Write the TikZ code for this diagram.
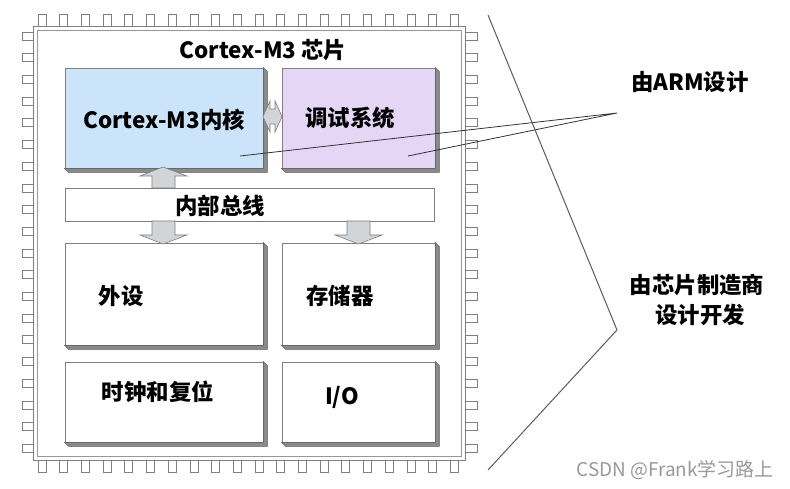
\documentclass[tikz,border=0pt]{standalone}
\usepackage{fontspec}
\setmainfont{Noto Sans CJK SC}
\usetikzlibrary{calc}
\definecolor{edge}{HTML}{7F7F7F}
\definecolor{shadegray}{HTML}{8A8A8A}
\definecolor{coreblue}{HTML}{CCE4FA}
\definecolor{dbgpurple}{HTML}{E5D6F6}
\definecolor{arrowgray}{HTML}{D2D5D8}
\definecolor{leader}{HTML}{333333}
\begin{document}
\begin{tikzpicture}[x=1bp,y=-1bp,
  box/.style={draw=edge, line width=0.8bp, fill=white, inner sep=0pt},
  flatbox/.style={draw=edge, line width=0.8bp, fill=white, inner sep=0pt},
  lbl/.style={font=\fontsize{22.5}{27}\selectfont\bfseries, text=black, inner sep=0pt},
  pin/.style={draw=edge, line width=0.7bp, fill=white},
  blockarrow/.style={draw=edge, line width=0.6bp, fill=arrowgray},
  shadowstrip/.style={fill=shadegray, draw=edge!70!black, line width=0.4bp},
  leadline/.style={draw=leader, line width=0.8bp},
  bracketline/.style={draw=leader!80, line width=1bp}
]
\useasboundingbox (0,0) rectangle (790,489);
\fill[white] (0,0) rectangle (790,489);

% pins
\foreach \i in {0,...,19}{
  \draw[pin] ({38+21.7*\i},14) rectangle ({46+21.7*\i},26);
  \draw[pin] ({38+21.7*\i},460) rectangle ({46+21.7*\i},472);
  \draw[pin] (22,{32+21.7*\i}) rectangle (33,{40+21.7*\i});
  \draw[pin] (465,{32+21.7*\i}) rectangle (477,{40+21.7*\i});
}
% chip frame
\node[draw=edge, line width=0.9bp, fill=white, inner sep=0pt, minimum width=432bp, minimum height=434bp] (chip) at (249,243) {};
\node[draw=edge!80, line width=0.7bp, inner sep=0pt, minimum width=424bp, minimum height=426bp] (chipin) at (249,243) {};

\node[lbl] (title) at (263,50) {Cortex-M3 芯片};

% boxes
\node[box, fill=coreblue, minimum width=198bp, minimum height=100bp] (core) at (164,118) {};
\node[box, fill=dbgpurple, minimum width=153bp, minimum height=100bp] (debug) at (358.5,118) {};
\node[flatbox, minimum width=369bp, minimum height=33bp] (bus) at (249.5,204.5) {};
\node[box, minimum width=198bp, minimum height=102bp] (periph) at (164,294) {};
\node[box, minimum width=153bp, minimum height=102bp] (mem) at (358.5,294) {};
\node[box, minimum width=198bp, minimum height=80bp] (clk) at (164,402) {};
\node[box, minimum width=153bp, minimum height=80bp] (io) at (358.5,402) {};

% 3D edges
\foreach \n in {core,debug,periph,mem,clk,io}{
  \filldraw[shadowstrip] (\n.south west) -- ++(4,4) -- ($(\n.south east)+(4,4)$)
    -- ($(\n.north east)+(4,4)$) -- (\n.north east) -- (\n.south east) -- cycle;
}

% labels
\node[lbl] (coret) at (164,120) {Cortex-M3内核};
\node[lbl] (debugt) at (350,118) {调试系统};
\node[lbl] (bust) at (220,206) {内部总线};
\node[lbl] (periphht) at (121,296) {外设};
\node[lbl] (memt) at (340,296) {存储器};
\node[lbl] (clkt) at (158,392) {时钟和复位};
\node[lbl] (iot) at (342,397) {I/O};

% block arrows
\draw[blockarrow] (152,188) -- (152,176) -- (140,176) -- (163,167) -- (187,176) -- (175,176) -- (175,188) -- cycle;
\draw[blockarrow] (152,221) -- (152,235) -- (140,235) -- (163,244) -- (187,235) -- (175,235) -- (175,221) -- cycle;
\draw[blockarrow] (347,221) -- (347,235) -- (335,235) -- (358.5,244) -- (382,235) -- (370,235) -- (370,221) -- cycle;
\draw[blockarrow] (263,116.5) -- (270,101) -- (270,109) -- (275,109) -- (275,101) -- (282,116.5) -- (275,132) -- (275,124) -- (270,124) -- (270,132) -- cycle;

% leader lines
\coordinate (tip) at (617,113);
\coordinate (p1) at (240,156);
\coordinate (p2) at (408,156);
\draw[leadline] (p1) -- (tip) -- (p2);

\coordinate (b1) at (488,15);
\coordinate (b2) at (617,330);
\coordinate (b3) at (488,470);
\draw[bracketline] (b1) -- (b2) -- (b3);

\node[lbl] (arm) at (690,82) {由ARM设计};
\node[lbl, align=center, font=\fontsize{22.5}{30}\selectfont\bfseries] (vendor) at (697,300) {由芯片制造商\\\hspace*{6bp}设计开发};

\node[font=\fontsize{19}{22}\selectfont, text=black!40, inner sep=0pt] (wm) at (675,470) {CSDN @Frank学习路上};
\end{tikzpicture}
\end{document}
